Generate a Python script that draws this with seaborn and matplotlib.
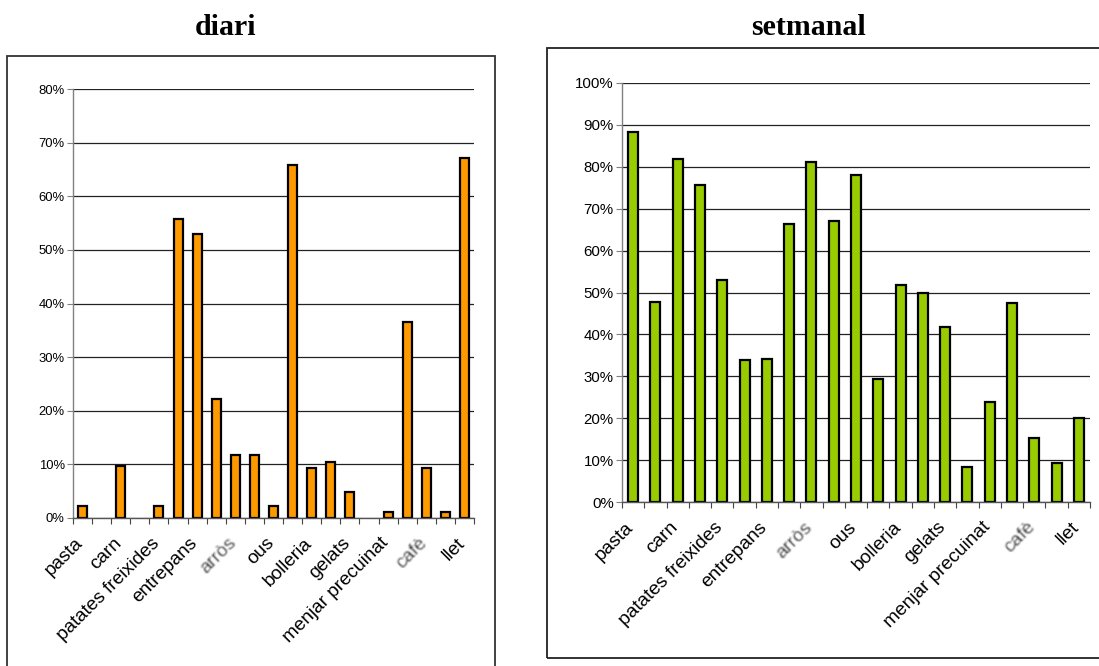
import numpy as np
import matplotlib
matplotlib.use("Agg")
import matplotlib.pyplot as plt
import matplotlib.transforms as mtransforms
import seaborn as sns
from matplotlib.patches import Rectangle
from matplotlib.ticker import FixedLocator, FuncFormatter

# --- data -------------------------------------------------------------
# 21 food categories; only every other one carries a printed name
tick_labels = ["pasta", "carn", "patates freixides", "entrepans", "arròs",
               "ous", "bolleria", "gelats", "menjar precuinat", "cafè", "llet"]

daily_pct = [2.3, 0.0, 9.7, 0.0, 2.3, 55.7, 52.9, 22.1, 11.8, 11.8, 2.3,
             65.8, 9.4, 10.5, 4.8, 0.0, 1.2, 36.6, 9.4, 1.2, 67.1]

weekly_pct = [88.4, 47.7, 81.9, 75.6, 53.1, 33.8, 34.1, 66.3, 81.1, 67.1,
              78.0, 29.4, 51.7, 50.0, 41.7, 8.4, 23.8, 47.5, 15.3, 9.4, 20.0]

panel_titles = ["diari", "setmanal"]
faded_labels = {"arròs", "cafè"}

# --- style ------------------------------------------------------------
sns.set_style("white")
plt.rcParams["font.family"] = ["Liberation Sans", "DejaVu Sans"]
plt.rcParams["text.color"] = "black"
plt.rcParams["xtick.labelcolor"] = "black"
plt.rcParams["ytick.labelcolor"] = "black"

W, H = 1099, 666
fig = plt.figure(figsize=(W / 100, H / 100), dpi=100)
fig.patch.set_facecolor("white")


def px_axes(x0, x1, ytop, ybot):
    return fig.add_axes([x0 / W, 1 - ybot / H, (x1 - x0) / W, (ybot - ytop) / H])


def soft_blur(img, dpi, r=1):
    # light box blur used for the faded category names
    pad = 3 * r
    out = np.pad(img, ((pad, pad), (pad, pad), (0, 0)))
    for axis in (0, 1):
        acc = np.zeros_like(out)
        for s in range(-r, r + 1):
            acc += np.roll(out, s, axis=axis)
        out = acc / (2 * r + 1)
    return out, -pad, -pad


def draw_panel(ax, values, color, ymax, ytick_size, xtick_size, bar_width):
    n = len(values)
    pos = list(range(n))
    sns.barplot(x=pos, y=values, color=color, width=bar_width,
                edgecolor="black", linewidth=1.6, saturation=1, ax=ax)
    # empty categories get no visible bar outline
    for patch in ax.patches:
        if patch.get_height() == 0:
            patch.set_visible(False)
    ax.set_xlim(-0.5, n - 0.5)
    ax.set_ylim(0, ymax)

    # horizontal gridlines
    ax.set_yticks(np.arange(0, ymax + 1, 10))
    ax.yaxis.set_major_formatter(FuncFormatter(lambda v, p: f"{int(v)}%"))
    ax.yaxis.grid(True, color="#222222", linewidth=0.9)
    ax.set_axisbelow(True)
    ax.tick_params(axis="y", length=4, width=0.8, color="#808080",
                   labelsize=ytick_size, pad=2, left=True)

    # category names at every other bar, tick marks between bars
    ax.set_xticks(pos[::2])
    ax.set_xticklabels(tick_labels, rotation=45, ha="right", va="top",
                       rotation_mode="anchor", fontsize=xtick_size)
    ax.xaxis.set_minor_locator(FixedLocator(np.arange(-0.5, n, 1.0)))
    ax.tick_params(axis="x", which="major", length=0, pad=12)
    ax.tick_params(axis="x", which="minor", length=4, width=0.8,
                   color="#444444", bottom=True)
    shift = mtransforms.ScaledTranslation(-0.08, 0.0, fig.dpi_scale_trans)
    for lbl in ax.get_xticklabels():
        lbl.set_transform(lbl.get_transform() + shift)
        if lbl.get_text() in faded_labels:
            lbl.set_color("#2e2e2e")
            lbl.set_agg_filter(soft_blur)

    ax.set_xlabel("")
    ax.set_ylabel("")
    for side in ("top", "right"):
        ax.spines[side].set_visible(False)
    ax.spines["left"].set_color("#808080")
    ax.spines["left"].set_linewidth(1.0)
    ax.spines["bottom"].set_color("#555555")
    ax.spines["bottom"].set_linewidth(1.0)


# left panel: daily consumption
ax1 = px_axes(73, 474, 89, 518)
draw_panel(ax1, daily_pct, "#FF9900", 80, 9.4, 13.7, 0.47)

# right panel: weekly consumption
ax2 = px_axes(622, 1090, 83, 502)
draw_panel(ax2, weekly_pct, "#99CC00", 100, 10.8, 13.8, 0.45)

# chart-area frames
fig.add_artist(Rectangle((7 / W, -0.02), (495 - 7) / W, 1.02 - 56 / H,
                         transform=fig.transFigure, fill=False,
                         edgecolor="#333333", linewidth=1.3))
fig.add_artist(Rectangle((547 / W, 1 - 658 / H), (1104 - 547) / W, (658 - 48) / H,
                         transform=fig.transFigure, fill=False,
                         edgecolor="#222222", linewidth=1.3))

# panel titles
title_font = dict(family=["Liberation Serif", "DejaVu Serif"], weight="bold",
                  fontsize=21.5, ha="center", va="baseline", color="black")
fig.text(226 / W, 1 - 35 / H, panel_titles[0], **title_font)
fig.text(809 / W, 1 - 35 / H, panel_titles[1], **title_font)

fig.savefig("out.png", dpi=100, facecolor="white")
